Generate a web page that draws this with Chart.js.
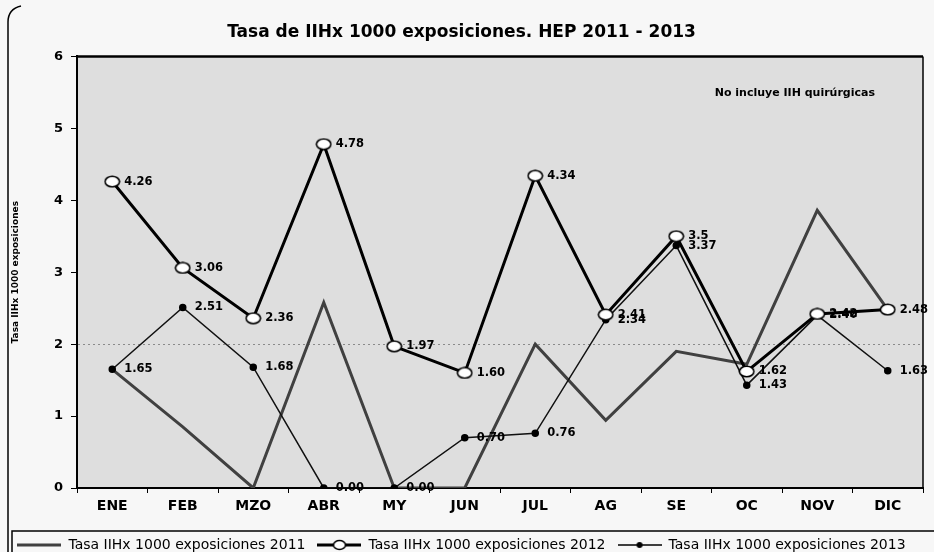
<!DOCTYPE html>
<html>
<head>
<meta charset="utf-8">
<script src="https://cdn.jsdelivr.net/npm/chart.js@4"></script>
<style>
  html, body { margin: 0; padding: 0; background: #f7f7f7; }
  #wrap { width: 934px; height: 552px; }
</style>
</head>
<body>
<div id="wrap"><canvas id="chart" width="934" height="552"></canvas></div>
<script>
// Datos
const meses = ['ENE', 'FEB', 'MZO', 'ABR', 'MY', 'JUN', 'JUL', 'AG', 'SE', 'OC', 'NOV', 'DIC'];
const tasa2011 = [1.65, 0.85, 0, 2.58, 0, 0, 2.0, 0.94, 1.9, 1.72, 3.86, 2.48];
const tasa2012 = [4.26, 3.06, 2.36, 4.78, 1.97, 1.60, 4.34, 2.41, 3.5, 1.62, 2.42, 2.48];
const tasa2013 = [1.65, 2.51, 1.68, 0, 0, 0.70, 0.76, 2.34, 3.37, 1.43, 2.40, 1.63];
const etiquetas2012 = ['4.26', '3.06', '2.36', '4.78', '1.97', '1.60', '4.34', '2.41', '3.5', '1.62', '2.42', '2.48'];
const etiquetas2013 = ['1.65', '2.51', '1.68', '0.00', '0.00', '0.70', '0.76', '2.34', '3.37', '1.43', '2.40', '1.63'];
const yTicks = [0, 1, 2, 3, 4, 5, 6];

const FONT = '"DejaVu Sans", Verdana, sans-serif';

// símbolos de la leyenda
function simbolo(color, ancho, marcador) {
    const c = document.createElement('canvas');
    c.width = 44; c.height = 14;
    const g = c.getContext('2d');
    g.strokeStyle = color;
    g.lineWidth = ancho;
    g.beginPath(); g.moveTo(0, 7); g.lineTo(44, 7); g.stroke();
    if (marcador === 'abierto') {
        g.fillStyle = '#fff'; g.lineWidth = 1.5; g.strokeStyle = '#000';
        g.beginPath(); g.ellipse(22, 7, 6, 4.5, 0, 0, Math.PI * 2); g.fill(); g.stroke();
    } else if (marcador === 'lleno') {
        g.fillStyle = '#000';
        g.beginPath(); g.arc(22, 7, 3, 0, Math.PI * 2); g.fill();
    }
    return c;
}

// marcador ovalado abierto (serie 2012)
function ovalo() {
    const c = document.createElement('canvas');
    c.width = 17; c.height = 13;
    const g = c.getContext('2d');
    g.fillStyle = '#fff'; g.strokeStyle = '#000'; g.lineWidth = 1.6;
    g.beginPath(); g.ellipse(8.5, 6.5, 7.2, 5.3, 0, 0, Math.PI * 2); g.fill(); g.stroke();
    return c;
}

const fondo = {
    id: 'fondo',
    beforeDraw(chart) {
        const { ctx, chartArea: a } = chart;
        ctx.save();
        ctx.fillStyle = '#f7f7f7';
        ctx.fillRect(0, 0, chart.width, chart.height);
        ctx.fillStyle = '#dedede';
        ctx.fillRect(a.left, a.top, a.right - a.left, a.bottom - a.top);
        ctx.restore();
    },
    afterDraw(chart) {
        const { ctx, chartArea: a, legend } = chart;
        ctx.save();
        ctx.strokeStyle = '#000';
        ctx.lineWidth = 2.5;
        ctx.beginPath(); ctx.moveTo(a.left, a.top); ctx.lineTo(a.right, a.top); ctx.stroke();
        ctx.lineWidth = 1.5;
        ctx.beginPath(); ctx.moveTo(a.right, a.top); ctx.lineTo(a.right, a.bottom); ctx.stroke();
        // nota
        ctx.fillStyle = '#000';
        ctx.font = 'bold 11px ' + FONT;
        ctx.textAlign = 'right';
        ctx.textBaseline = 'middle';
        ctx.fillText('No incluye IIH quirúrgicas', a.right - 48, a.top + 37);
        // marco de la leyenda
        ctx.lineWidth = 1.5;
        ctx.beginPath();
        ctx.moveTo(12, chart.height);
        ctx.lineTo(12, legend.top + 5);
        ctx.lineTo(chart.width, legend.top + 5);
        ctx.stroke();
        // borde exterior
        ctx.beginPath();
        ctx.moveTo(8, chart.height);
        ctx.lineTo(8, 22);
        ctx.quadraticCurveTo(8, 9, 21, 6);
        ctx.stroke();
        ctx.restore();
    }
};

const etiquetas = {
    id: 'etiquetas',
    afterDatasetsDraw(chart) {
        const { ctx } = chart;
        ctx.save();
        ctx.fillStyle = '#000';
        ctx.font = 'bold 11.5px ' + FONT;
        ctx.textAlign = 'left';
        ctx.textBaseline = 'middle';
        chart.data.datasets.forEach((ds, i) => {
            if (!ds.etiquetas) return;
            chart.getDatasetMeta(i).data.forEach((p, j) => {
                ctx.fillText(ds.etiquetas[j], p.x + 12, p.y);
            });
        });
        ctx.restore();
    }
};

const ctx = document.getElementById('chart').getContext('2d');
new Chart(ctx, {
    type: 'line',
    data: {
        labels: meses,
        datasets: [
            {
                label: 'Tasa IIHx 1000 exposiciones 2011',
                data: tasa2011,
                borderColor: '#404040',
                borderWidth: 3,
                pointRadius: 0,
                pointStyle: simbolo('#404040', 3, null),
                tension: 0,
                order: 2
            },
            {
                label: 'Tasa IIHx 1000 exposiciones 2012',
                data: tasa2012,
                etiquetas: etiquetas2012,
                borderColor: '#000',
                borderWidth: 3,
                pointRadius: 6,
                pointStyle: ovalo(),
                legendSymbol: simbolo('#000', 3, 'abierto'),
                tension: 0,
                order: 0
            },
            {
                label: 'Tasa IIHx 1000 exposiciones 2013',
                data: tasa2013,
                etiquetas: etiquetas2013,
                borderColor: '#111',
                borderWidth: 1.5,
                pointRadius: 3,
                pointBackgroundColor: '#000',
                pointBorderColor: '#000',
                pointStyle: 'circle',
                legendSymbol: simbolo('#000', 1.5, 'lleno'),
                tension: 0,
                order: 1
            }
        ]
    },
    options: {
        responsive: false,
        animation: false,
        layout: { padding: { left: 0, right: 11, top: 0, bottom: -10 } },
        plugins: {
            title: {
                display: true,
                text: 'Tasa de IIHx 1000 exposiciones. HEP 2011 - 2013',
                color: '#000',
                font: { family: FONT, size: 17, weight: 'bold' },
                padding: { top: 22, bottom: 14 }
            },
            legend: {
                position: 'bottom',
                labels: {
                    color: '#000',
                    font: { family: FONT, size: 14 },
                    usePointStyle: true,
                    pointStyleWidth: 44,
                    padding: 12,
                    generateLabels(chart) {
                        return chart.data.datasets.map((ds, i) => ({
                            text: ds.label,
                            pointStyle: ds.legendSymbol || ds.pointStyle,
                            fillStyle: 'transparent',
                            strokeStyle: 'transparent',
                            lineWidth: 0,
                            fontColor: '#000',
                            datasetIndex: i
                        }));
                    }
                }
            },
            tooltip: { enabled: false }
        },
        scales: {
            x: {
                offset: true,
                grid: { offset: true, drawOnChartArea: false, drawTicks: true, tickLength: 5, color: '#000' },
                border: { color: '#000', width: 2 },
                ticks: { color: '#000', font: { family: FONT, size: 14, weight: 'bold' }, padding: 5 },
                afterFit(scale) { scale.height = 38; }
            },
            y: {
                min: 0,
                max: 6,
                afterBuildTicks(scale) { scale.ticks = yTicks.map(v => ({ value: v })); },
                grid: {
                    drawOnChartArea: true,
                    drawTicks: true,
                    tickLength: 6,
                    color: c => (c.tick && c.tick.value === 2) ? '#8a8a8a' : 'rgba(0,0,0,0)',
                    tickColor: '#000'
                },
                border: { color: '#000', width: 2, dash: [2, 3] },
                ticks: { color: '#000', font: { family: FONT, size: 13, weight: 'bold' }, padding: 8 },
                title: {
                    display: true,
                    text: 'Tasa IIHx 1000 exposiciones',
                    color: '#000',
                    font: { family: FONT, size: 9, weight: 'bold' },
                    padding: { top: 10, bottom: 0 }
                },
                afterFit(scale) { scale.width = 77; }
            }
        }
    },
    plugins: [fondo, etiquetas]
});
</script>
</body>
</html>
